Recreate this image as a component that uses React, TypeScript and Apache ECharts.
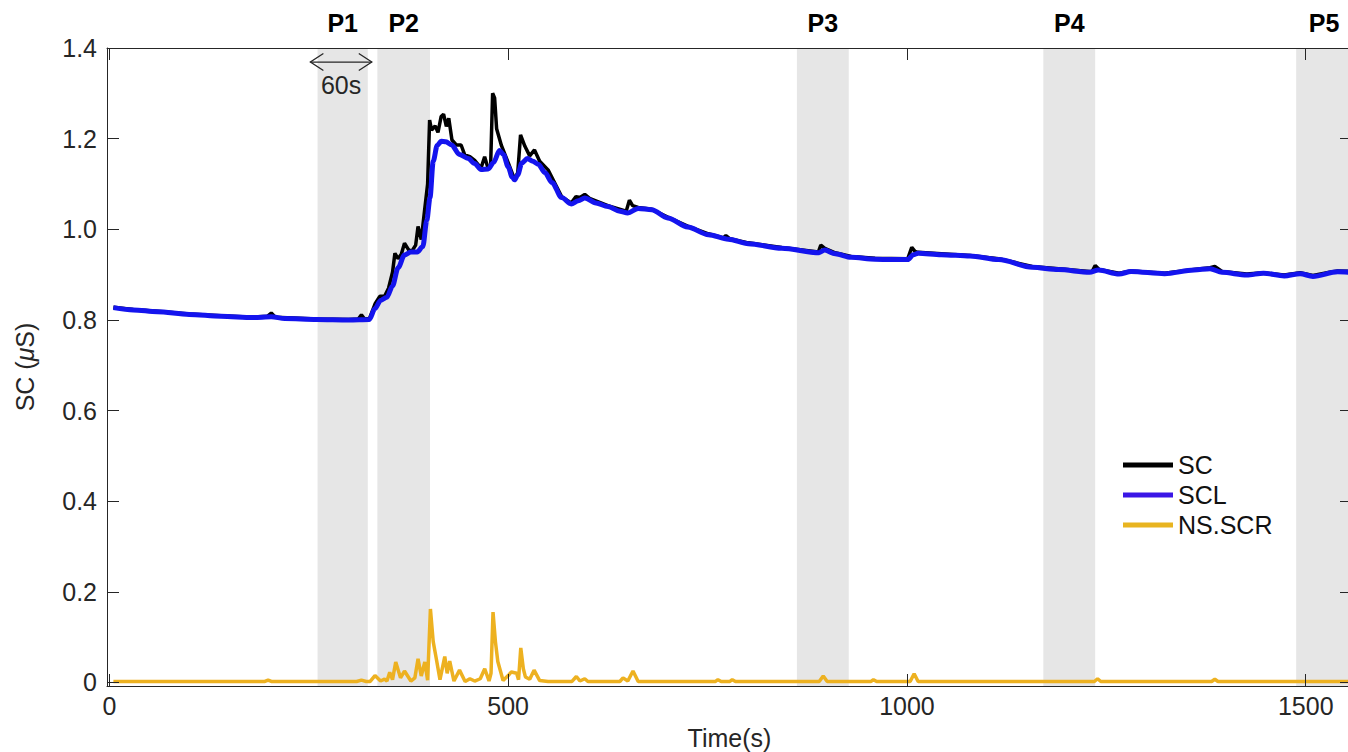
import React, { useEffect, useRef } from "react";
import * as echarts from "echarts";

// ---- data (time in s, conductance in µS) ----
const scData: [number, number][] = [
  [5, 0.828], [30, 0.823], [60, 0.819], [100, 0.813], [140, 0.809], [180, 0.806], [198, 0.808],
  [203, 0.815], [208, 0.806], [260, 0.802], [300, 0.801], [312, 0.802], [316, 0.811], [320, 0.802],
  [326, 0.803], [333, 0.835], [339, 0.852], [345, 0.852], [350, 0.87], [355, 0.905], [358, 0.947],
  [362, 0.935], [366, 0.945], [370, 0.969], [375, 0.955], [379, 0.951], [384, 0.965], [387, 1.006],
  [391, 0.977], [395, 1.039], [399, 1.1], [401.5, 1.241], [404, 1.219], [408.5, 1.228], [412, 1.214],
  [416, 1.249], [419, 1.254], [422.5, 1.227], [425.5, 1.245], [429.5, 1.197], [435, 1.186],
  [441, 1.186], [445.5, 1.164], [452, 1.16], [458, 1.152], [466, 1.135], [470.5, 1.16], [474.5, 1.136],
  [478, 1.14], [480.5, 1.3], [483, 1.29], [485.5, 1.222], [491.5, 1.185], [500, 1.147], [508, 1.11],
  [512, 1.125], [515.5, 1.208], [521, 1.183], [527, 1.162], [533, 1.175], [539.5, 1.15], [550, 1.131],
  [567, 1.072], [579, 1.058], [585, 1.072], [590, 1.07], [596, 1.077], [602, 1.068], [625, 1.052],
  [648, 1.04], [652, 1.064], [656, 1.052], [663, 1.048], [680, 1.044], [700, 1.027], [725, 1.007],
  [751, 0.99], [770, 0.981], [773, 0.986], [778, 0.979], [801, 0.97], [843, 0.96], [889, 0.95],
  [892, 0.965], [897, 0.958], [910, 0.948], [930, 0.94], [960, 0.936], [1001, 0.935], [1006, 0.96],
  [1010, 0.951], [1014, 0.949], [1043, 0.946], [1079, 0.942], [1115, 0.935], [1157, 0.918],
  [1190, 0.913], [1232, 0.906], [1236, 0.92], [1241, 0.911], [1266, 0.903], [1281, 0.908],
  [1323, 0.903], [1360, 0.911], [1380, 0.915], [1386, 0.918], [1395, 0.907], [1426, 0.901],
  [1447, 0.904], [1473, 0.899], [1493, 0.904], [1509, 0.898], [1530, 0.905], [1540, 0.908], [1558, 0.907],
];

const sclData: [number, number][] = [
  [5, 0.827], [30, 0.822], [60, 0.818], [100, 0.812], [140, 0.808], [180, 0.805], [203, 0.807],
  [220, 0.803], [260, 0.801], [300, 0.8], [326, 0.801], [333, 0.825], [340, 0.843], [348, 0.85],
  [355, 0.875], [362, 0.915], [370, 0.943], [378, 0.95], [386, 0.95], [393, 0.962], [398, 1.02],
  [402, 1.07], [406, 1.15], [411, 1.185], [416, 1.194], [422, 1.193], [429, 1.186], [439, 1.165],
  [450, 1.156], [458, 1.145], [466, 1.132], [475, 1.133], [482, 1.148], [489, 1.174], [494, 1.165],
  [500, 1.138], [505, 1.115], [508, 1.109], [512, 1.12], [517, 1.146], [524, 1.156], [531, 1.15],
  [538, 1.143], [546, 1.125], [555, 1.103], [567, 1.07], [579, 1.056], [588, 1.063], [596, 1.069],
  [610, 1.058], [625, 1.05], [640, 1.04], [650, 1.036], [663, 1.046], [680, 1.043], [700, 1.025],
  [725, 1.005], [751, 0.988], [776, 0.978], [801, 0.968], [843, 0.958], [889, 0.948], [897, 0.954],
  [910, 0.946], [930, 0.938], [960, 0.934], [980, 0.933], [1001, 0.933], [1008, 0.944], [1014, 0.947],
  [1043, 0.944], [1079, 0.941], [1115, 0.933], [1157, 0.916], [1190, 0.911], [1229, 0.905],
  [1240, 0.91], [1266, 0.901], [1281, 0.907], [1323, 0.902], [1360, 0.91], [1380, 0.913],
  [1395, 0.905], [1426, 0.899], [1447, 0.903], [1473, 0.897], [1493, 0.902], [1509, 0.896],
  [1540, 0.906], [1558, 0.905],
];

const nsscrData: [number, number][] = [
  [5, 0.002], [195, 0.002], [199, 0.005], [203, 0.002], [310, 0.002], [316, 0.005], [322, 0.002],
  [327, 0.002], [333, 0.015], [340, 0.003], [345, 0.007], [348, 0.003], [351.5, 0.022], [355, 0.006],
  [359, 0.045], [365, 0.01], [370, 0.025], [378, 0.003], [383, 0.01], [387, 0.052], [391, 0.014],
  [395.5, 0.045], [399, 0.005], [402.5, 0.162], [406, 0.09], [410, 0.051], [414.5, 0.006],
  [420.5, 0.057], [423.5, 0.02], [426.7, 0.047], [432, 0.003], [439, 0.027], [446, 0.002],
  [452, 0.008], [458, 0.003], [465, 0.008], [470.6, 0.03], [476, 0.003], [478.5, 0.02], [481, 0.155],
  [484, 0.09], [487, 0.046], [493.6, 0.004], [500, 0.015], [504, 0.023], [510.6, 0.02], [513, 0.006],
  [515.8, 0.076], [519, 0.03], [521.6, 0.012], [527, 0.007], [532.5, 0.027], [539.5, 0.004],
  [550, 0.002], [580, 0.002], [585.5, 0.013], [590, 0.003], [596, 0.008], [600, 0.002], [640, 0.002],
  [644, 0.01], [650, 0.003], [656.5, 0.025], [663, 0.002], [760, 0.002], [763, 0.006], [767, 0.002],
  [778, 0.002], [781, 0.006], [785, 0.002], [890, 0.002], [895, 0.014], [900, 0.002], [955, 0.002],
  [958, 0.006], [962, 0.002], [1004, 0.002], [1009, 0.019], [1014, 0.002], [1235, 0.002],
  [1239, 0.008], [1243, 0.002], [1382, 0.002], [1386, 0.007], [1390, 0.002], [1558, 0.002],
];

const periodLabels = ["P1", "P2", "P3", "P4", "P5"];
const periodStarts = [261, 336, 862, 1171, 1488];
const periodEnds = [324, 402, 927, 1236, 1558];

const xMin = -3;
const xMax = 1558;
const xTicks = [0, 500, 1000, 1500];
const yMin = -0.008;
const yMax = 1.4;
const yTicks = [0, 0.2, 0.4, 0.6, 0.8, 1.0, 1.2, 1.4];

const arrowStartT = 252;
const arrowEndT = 329;
const arrowY = 1.369;
const arrowText = "60s";
const arrowTextY = 1.318;

const FONT = 'Arial, "Liberation Sans", Helvetica, sans-serif';
const AX = "#262626";

export default function App() {
  const ref = useRef<HTMLDivElement>(null);

  useEffect(() => {
    if (!ref.current) return;
    const chart = echarts.init(ref.current, undefined, { renderer: "svg" });

    const axisLine = { show: true, onZero: false, lineStyle: { color: AX, width: 1 } };
    const tickStyle = { color: AX, width: 1 };

    chart.setOption({
      animation: false,
      backgroundColor: "#ffffff",
      grid: { left: 107, top: 48, width: 1245, height: 638, outerBoundsMode: "none", containLabel: false },
      legend: {
        orient: "vertical",
        left: 1123,
        top: 452,
        padding: 0,
        itemWidth: 50,
        itemHeight: 5,
        itemGap: 4,
        icon: "rect",
        textStyle: { fontSize: 25, color: "#111", fontFamily: FONT, lineHeight: 26 },
        data: [
          { name: "SC", itemStyle: { color: "#000000" } },
          { name: "SCL", itemStyle: { color: "#3a16e6" } },
          { name: "NS.SCR", itemStyle: { color: "#e8b420" } },
        ],
      },
      xAxis: [
        {
          type: "value",
          min: xMin,
          max: xMax,
          position: "bottom",
          z: 3,
          axisLine,
          axisTick: { inside: true, length: 12, lineStyle: tickStyle, customValues: xTicks },
          axisLabel: {
            customValues: xTicks,
            fontSize: 25,
            color: AX,
            margin: 7,
            fontFamily: FONT,
            formatter: (v: number) => String(Math.round(v)),
          },
          splitLine: { show: false },
          name: "Time(s)",
          nameLocation: "middle",
          nameGap: 39,
          nameTextStyle: { fontSize: 25, lineHeight: 25, color: AX, fontFamily: FONT },
        },
        {
          type: "value",
          min: xMin,
          max: xMax,
          position: "top",
          z: 3,
          axisLine,
          axisTick: { inside: true, length: 12, lineStyle: tickStyle, customValues: xTicks },
          axisLabel: { show: false },
          splitLine: { show: false },
        },
      ],
      yAxis: [
        {
          type: "value",
          min: yMin,
          max: yMax,
          position: "left",
          z: 3,
          axisLine,
          axisTick: { inside: true, length: 12, lineStyle: tickStyle, customValues: yTicks },
          axisLabel: {
            customValues: yTicks,
            fontSize: 25,
            color: AX,
            margin: 10,
            fontFamily: FONT,
            formatter: (v: number) => (Math.abs(v) < 1e-9 ? "0" : v.toFixed(1)),
          },
          splitLine: { show: false },
          name: "SC ({i|μ}S)",
          nameLocation: "middle",
          nameGap: 70,
          nameRotate: 90,
          nameTextStyle: {
            fontSize: 25,
            color: AX,
            fontFamily: FONT,
            rich: { i: { fontSize: 25, color: AX, fontFamily: FONT, fontStyle: "italic" } },
          },
        },
        {
          type: "value",
          min: yMin,
          max: yMax,
          position: "right",
          z: 3,
          axisLine,
          axisTick: { inside: true, length: 12, lineStyle: tickStyle, customValues: yTicks },
          axisLabel: { show: false },
          splitLine: { show: false },
        },
      ],
      series: [
        {
          name: "SC",
          type: "line",
          data: scData,
          showSymbol: false,
          symbol: "none",
          z: 2,
          lineStyle: { color: "#000000", width: 3.5 },
          itemStyle: { color: "#000000" },
          markArea: {
            silent: true,
            itemStyle: { color: "#e6e6e6" },
            label: {
              show: true,
              position: "top",
              distance: 13,
              fontSize: 25,
              fontWeight: "bold",
              color: "#000",
              fontFamily: FONT,
            },
            data: periodLabels.map((p, i) => [
              { name: p, xAxis: periodStarts[i] },
              { xAxis: periodEnds[i] },
            ]),
          },
        },
        {
          name: "SCL",
          type: "line",
          data: sclData,
          showSymbol: false,
          symbol: "none",
          smooth: 0.3,
          smoothMonotone: "x",
          z: 2.5,
          lineStyle: { color: "#1414ee", width: 5 },
          itemStyle: { color: "#1414ee" },
        },
        {
          name: "NS.SCR",
          type: "line",
          data: nsscrData,
          showSymbol: false,
          symbol: "none",
          z: 2.6,
          lineStyle: { color: "#EDB120", width: 3.5 },
          itemStyle: { color: "#EDB120" },
        },
      ],
    });

    const a = chart.convertToPixel({ gridIndex: 0 }, [arrowStartT, arrowY]) as number[];
    const b = chart.convertToPixel({ gridIndex: 0 }, [arrowEndT, arrowY]) as number[];
    const t = chart.convertToPixel({ gridIndex: 0 }, [(arrowStartT + arrowEndT) / 2, arrowTextY]) as number[];
    const stroke = { stroke: "#262626", lineWidth: 1.3, fill: null };
    chart.setOption({
      graphic: [
        { type: "line", shape: { x1: a[0], y1: a[1], x2: b[0], y2: b[1] }, style: stroke, z: 10 },
        {
          type: "polyline",
          shape: { points: [[a[0] + 13, a[1] - 8.5], [a[0], a[1]], [a[0] + 13, a[1] + 8.5]] },
          style: stroke,
          z: 10,
        },
        {
          type: "polyline",
          shape: { points: [[b[0] - 13, b[1] - 8.5], [b[0], b[1]], [b[0] - 13, b[1] + 8.5]] },
          style: stroke,
          z: 10,
        },
        {
          type: "text",
          x: t[0],
          y: t[1],
          z: 10,
          style: {
            text: arrowText,
            fontSize: 25,
            fontFamily: FONT,
            fill: "#262626",
            align: "center",
            verticalAlign: "middle",
          },
        },
      ],
    });

    return () => chart.dispose();
  }, []);

  return (
    <div
      style={{
        position: "fixed",
        left: 0,
        top: 0,
        width: 1348,
        height: 752,
        overflow: "hidden",
        background: "#ffffff",
      }}
    >
      <div ref={ref} style={{ width: 1360, height: 780 }} />
    </div>
  );
}
